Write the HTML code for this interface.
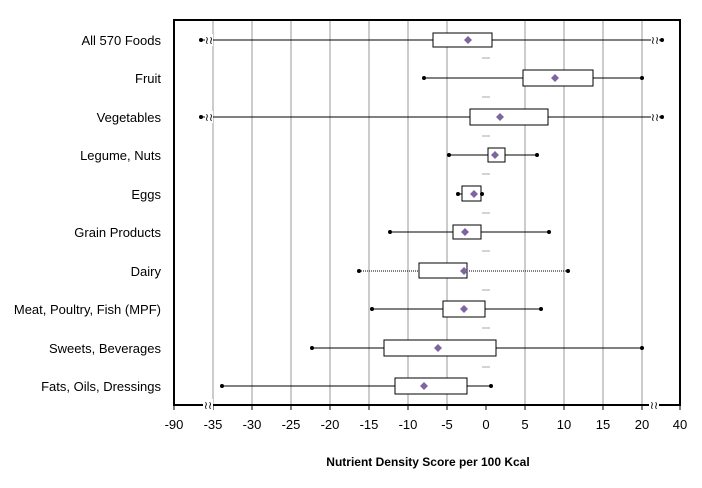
<!DOCTYPE html>
<html><head><style>body{margin:0;background:#fff}</style></head><body>
<svg width="702" height="483" xmlns="http://www.w3.org/2000/svg" font-family="Liberation Sans, sans-serif">
<rect width="702" height="483" fill="#fff"/>
<g stroke="#999" stroke-width="1">
<line x1="213" y1="20" x2="213" y2="405"/><line x1="252" y1="20" x2="252" y2="405"/><line x1="291" y1="20" x2="291" y2="405"/><line x1="330" y1="20" x2="330" y2="405"/><line x1="369" y1="20" x2="369" y2="405"/><line x1="408" y1="20" x2="408" y2="405"/><line x1="447" y1="20" x2="447" y2="405"/><line x1="525" y1="20" x2="525" y2="405"/><line x1="564" y1="20" x2="564" y2="405"/><line x1="603" y1="20" x2="603" y2="405"/><line x1="642" y1="20" x2="642" y2="405"/>
</g>
<g stroke="#aaa"><line x1="482" y1="58" x2="490" y2="58"/><line x1="482" y1="97" x2="490" y2="97"/><line x1="482" y1="136" x2="490" y2="136"/><line x1="482" y1="174" x2="490" y2="174"/><line x1="482" y1="213" x2="490" y2="213"/><line x1="482" y1="251" x2="490" y2="251"/><line x1="482" y1="290" x2="490" y2="290"/><line x1="482" y1="328" x2="490" y2="328"/><line x1="482" y1="367" x2="490" y2="367"/></g>
<rect x="174" y="20" width="506" height="385" fill="none" stroke="#000" stroke-width="2"/>
<g stroke="#000" stroke-width="1">
<line x1="174" y1="405" x2="174" y2="410"/><line x1="213" y1="405" x2="213" y2="410"/><line x1="252" y1="405" x2="252" y2="410"/><line x1="291" y1="405" x2="291" y2="410"/><line x1="330" y1="405" x2="330" y2="410"/><line x1="369" y1="405" x2="369" y2="410"/><line x1="408" y1="405" x2="408" y2="410"/><line x1="447" y1="405" x2="447" y2="410"/><line x1="486" y1="405" x2="486" y2="410"/><line x1="525" y1="405" x2="525" y2="410"/><line x1="564" y1="405" x2="564" y2="410"/><line x1="603" y1="405" x2="603" y2="410"/><line x1="642" y1="405" x2="642" y2="410"/><line x1="680" y1="405" x2="680" y2="410"/>
</g>
<g font-size="13" text-anchor="middle" fill="#000">
<text x="174" y="429">-90</text><text x="213" y="429">-35</text><text x="252" y="429">-30</text><text x="291" y="429">-25</text><text x="330" y="429">-20</text><text x="369" y="429">-15</text><text x="408" y="429">-10</text><text x="447" y="429">-5</text><text x="486" y="429">0</text><text x="525" y="429">5</text><text x="564" y="429">10</text><text x="603" y="429">15</text><text x="642" y="429">20</text><text x="680" y="429">40</text>
</g>
<text x="428" y="466" font-size="12" font-weight="bold" text-anchor="middle">Nutrient Density Score per 100 Kcal</text>
<g font-size="13" text-anchor="end" fill="#000">
<text x="161" y="45">All 570 Foods</text><text x="161" y="83">Fruit</text><text x="161" y="122">Vegetables</text><text x="161" y="160">Legume, Nuts</text><text x="161" y="199">Eggs</text><text x="161" y="237">Grain Products</text><text x="161" y="276">Dairy</text><text x="161" y="314">Meat, Poultry, Fish (MPF)</text><text x="161" y="353">Sweets, Beverages</text><text x="161" y="391">Fats, Oils, Dressings</text>
</g>
<g stroke="#000" stroke-width="1" fill="#fff">
<line x1="201" y1="40" x2="662" y2="40"/><rect x="433" y="33" width="59" height="14"/>
<line x1="424" y1="78" x2="642" y2="78"/><rect x="523" y="70" width="70" height="16"/>
<line x1="201" y1="117" x2="662" y2="117"/><rect x="470" y="109" width="78" height="16"/>
<line x1="449" y1="155" x2="537" y2="155"/><rect x="488" y="148" width="17" height="14"/>
<line x1="458" y1="194" x2="482" y2="194"/><rect x="462" y="186" width="19" height="15"/>
<line x1="390" y1="232" x2="549" y2="232"/><rect x="453" y="225" width="28" height="14"/>
<line x1="359" y1="271" x2="568" y2="271" stroke-dasharray="1,1"/><rect x="419" y="263" width="48" height="15"/>
<line x1="372" y1="309" x2="541" y2="309"/><rect x="443" y="301" width="42" height="16"/>
<line x1="312" y1="348" x2="642" y2="348"/><rect x="384" y="340" width="112" height="16"/>
<line x1="222" y1="386" x2="491" y2="386"/><rect x="395" y="378" width="72" height="16"/>
</g>
<g fill="#000">
<circle cx="201" cy="40" r="2"/><circle cx="662" cy="40" r="2"/><circle cx="424" cy="78" r="2"/><circle cx="642" cy="78" r="2"/><circle cx="201" cy="117" r="2"/><circle cx="662" cy="117" r="2"/><circle cx="449" cy="155" r="2"/><circle cx="537" cy="155" r="2"/><circle cx="458" cy="194" r="2"/><circle cx="482" cy="194" r="2"/><circle cx="390" cy="232" r="2"/><circle cx="549" cy="232" r="2"/><circle cx="359" cy="271" r="2"/><circle cx="568" cy="271" r="2"/><circle cx="372" cy="309" r="2"/><circle cx="541" cy="309" r="2"/><circle cx="312" cy="348" r="2"/><circle cx="642" cy="348" r="2"/><circle cx="222" cy="386" r="2"/><circle cx="491" cy="386" r="2"/>
</g>
<g fill="#8064a2">
<path d="M468 36l4 4-4 4-4-4z"/><path d="M555 74l4 4-4 4-4-4z"/><path d="M500 113l4 4-4 4-4-4z"/><path d="M495 151l4 4-4 4-4-4z"/><path d="M474 190l4 4-4 4-4-4z"/><path d="M465 228l4 4-4 4-4-4z"/><path d="M464 267l4 4-4 4-4-4z"/><path d="M464 305l4 4-4 4-4-4z"/><path d="M438 344l4 4-4 4-4-4z"/><path d="M424 382l4 4-4 4-4-4z"/>
</g>
<g font-size="11" fill="#000" text-anchor="middle">
<rect x="205" y="34" width="8" height="12" fill="#fff"/><text x="209" y="44">≀≀</text>
<rect x="205" y="111" width="8" height="12" fill="#fff"/><text x="209" y="121">≀≀</text>
<rect x="651" y="34" width="8" height="12" fill="#fff"/><text x="655" y="44">≀≀</text>
<rect x="651" y="111" width="8" height="12" fill="#fff"/><text x="655" y="121">≀≀</text>
<rect x="203" y="399" width="10" height="12" fill="#fff"/><text x="208" y="409">≀≀</text>
<rect x="649" y="399" width="10" height="12" fill="#fff"/><text x="654" y="409">≀≀</text>
</g>
</svg>
</body></html>
